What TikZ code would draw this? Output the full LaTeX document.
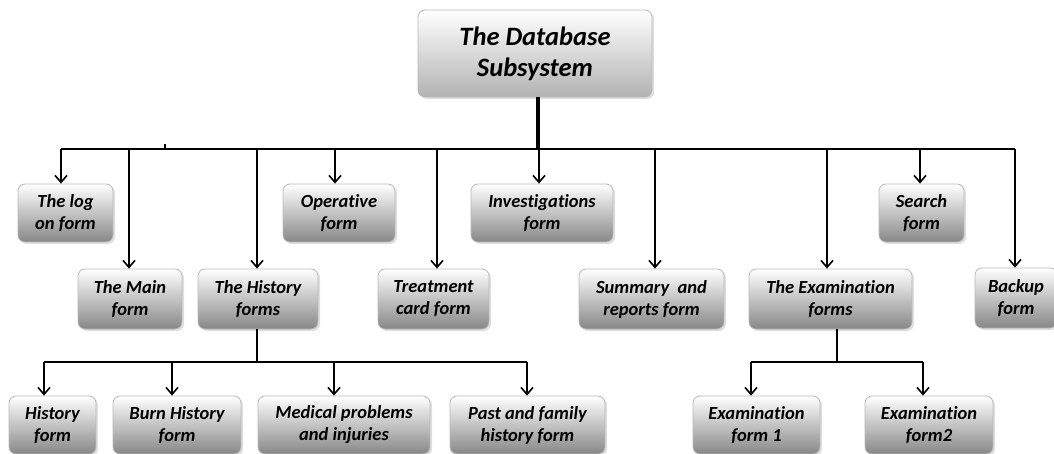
\documentclass[tikz,border=0pt]{standalone}
\usepackage{fontspec}
\setmainfont{Carlito}[RawFeature={-liga}]
\usetikzlibrary{arrows.meta,shadows}
\begin{document}
\begin{tikzpicture}[x=1pt,y=-1pt,
  box/.style={rounded corners=7pt, draw=gray!55, line width=0.8pt,
    top color=white, bottom color=black!47,
    drop shadow={shadow xshift=2pt, shadow yshift=-2pt, opacity=0.25},
    align=center, inner sep=2pt, text=black,
    font=\bfseries\itshape\fontsize{18.5}{22}\selectfont},
  rowa/.style={box, minimum height=58pt},
  rowb/.style={box, minimum height=60pt},
  rowc/.style={box, minimum height=58pt},
  ln/.style={line width=1.8pt, black},
  arr/.style={ln, -{Straight Barb[length=7pt,width=12pt,line width=1.6pt]}},
  stemline/.style={line width=4pt, black}]
\useasboundingbox (0,0) rectangle (1054,454);

% top node
\node[box, top color=white, bottom color=black!30, minimum width=234pt, minimum height=87pt,
  font=\bfseries\itshape\fontsize{26.5}{31}\selectfont] (top) at (535,53.5) {The Database\\Subsystem};

% row 1
\node[rowa, minimum width=95pt]  (log)    at (65.5,213)  {The log\\on form};
\node[rowa, minimum width=112pt] (oper)   at (339,213)   {Operative\\form};
\node[rowa, minimum width=142pt] (inv)    at (542,213)   {Investigations\\form};
\node[rowa, minimum width=85pt]  (search) at (921.5,213) {Search\\form};

% row 2
\node[rowb, minimum width=104pt] (main)   at (130,299)   {The Main\\form};
\node[rowb, minimum width=120pt] (hist)   at (258,299)   {The History\\forms};
\node[rowb, minimum width=111pt] (treat)  at (433.5,299) {Treatment\\card form};
\node[rowb, minimum width=145pt] (summ)   at (651.5,299) {Summary\ \ and\\reports form};
\node[rowb, minimum width=163pt] (exam)   at (830.5,299) {The Examination\\forms};
\node[rowb, minimum width=82pt]  (backup) at (1016,298)  {Backup\\form};

% row 3
\node[rowc, minimum width=87pt]  (hform)  at (52.5,425)  {History\\form};
\node[rowc, minimum width=128pt] (burn)   at (177,425)   {Burn History\\form};
\node[rowc, minimum width=172pt] (med)    at (344,425)   {Medical problems\\and injuries};
\node[rowc, minimum width=155pt] (past)   at (527.5,425) {Past and family\\history form};
\node[rowc, minimum width=127pt] (exa)    at (756.5,425) {Examination\\form 1};
\node[rowc, minimum width=128pt] (exb)    at (929,425)   {Examination\\form2};

% main bus coordinates
\coordinate (stem) at (538,149);
\coordinate (b1) at (61,149);
\coordinate (b2) at (129,149);
\coordinate (b3) at (257,149);
\coordinate (b4) at (335,149);
\coordinate (b5) at (437,149);
\coordinate (b6) at (539,149);
\coordinate (b7) at (655,149);
\coordinate (b8) at (827,149);
\coordinate (b9) at (920,149);
\coordinate (b10) at (1015,149);
\coordinate (tick) at (165,149);

\draw[stemline] (stem |- top.south) -- (stem);
\draw[ln] (b1) -- (b10);
\draw[line width=1.2pt] (tick) -- ++(0,-5);
\draw[arr] (b1) -- (b1 |- log.north);
\draw[arr] (b2) -- (b2 |- main.north);
\draw[arr] (b3) -- (b3 |- hist.north);
\draw[arr] (b4) -- (b4 |- oper.north);
\draw[arr] (b5) -- (b5 |- treat.north);
\draw[arr] (b6) -- (b6 |- inv.north);
\draw[arr] (b7) -- (b7 |- summ.north);
\draw[arr] (b8) -- (b8 |- exam.north);
\draw[arr] (b9) -- (b9 |- search.north);
\draw[arr] (b10) -- (b10 |- backup.north);

% history sub-bus
\coordinate (hs) at (257,362);
\coordinate (h1) at (44,362);
\coordinate (h2) at (172,362);
\coordinate (h3) at (334,362);
\coordinate (h4) at (527,362);
\draw[ln] (hs |- hist.south) -- (hs);
\draw[ln] (h1) -- (h4);
\draw[arr] (h1) -- (h1 |- hform.north);
\draw[arr] (h2) -- (h2 |- burn.north);
\draw[arr] (h3) -- (h3 |- med.north);
\draw[arr] (h4) -- (h4 |- past.north);

% examination sub-bus
\coordinate (es) at (837,362);
\coordinate (e1) at (751,362);
\coordinate (e2) at (923,362);
\draw[ln] (es |- exam.south) -- (es);
\draw[ln] (e1) -- (e2);
\draw[arr] (e1) -- (e1 |- exa.north);
\draw[arr] (e2) -- (e2 |- exb.north);
\end{tikzpicture}
\end{document}
